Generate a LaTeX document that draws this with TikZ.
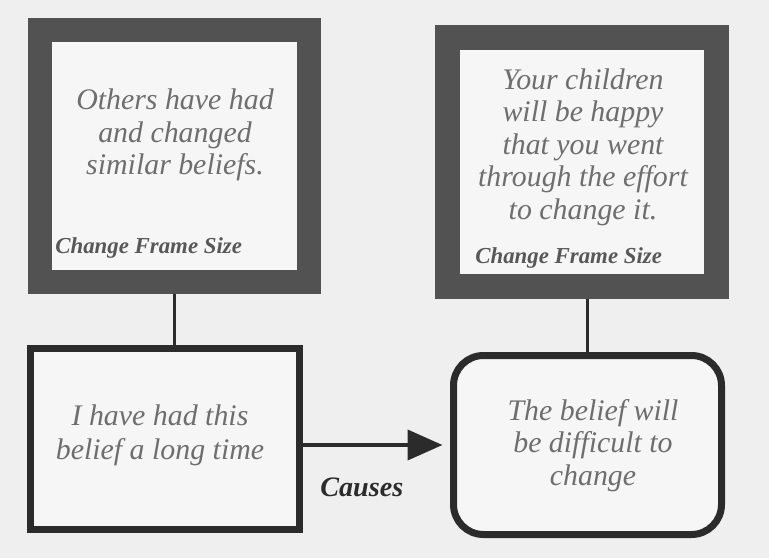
\documentclass[tikz,border=0pt]{standalone}
\usepackage{fontspec}
\setmainfont{Liberation Serif}
\usetikzlibrary{arrows.meta,positioning}
\definecolor{bggray}{HTML}{EFEFEF}
\definecolor{innerfill}{HTML}{F6F6F6}
\definecolor{framegray}{HTML}{525252}
\definecolor{boxgray}{HTML}{2B2B2B}
\definecolor{textgray}{HTML}{6E6E6E}
\tikzset{
  frame/.style = {draw = framegray, line width = .48cm, fill = innerfill, minimum width = 5.37cm, minimum height = 5.02cm, inner sep = 0pt},
  box/.style = {draw = boxgray, line width = .14cm, fill = innerfill, minimum width = 5.38cm, minimum height = 3.62cm, inner sep = 0pt},
  txt/.style = {draw = none, fill = none, align = center, text = textgray, font = \fontsize{17}{18.5}\selectfont\itshape},
  tag/.style = {draw = none, fill = none, anchor = west, inner sep = 0pt, text = textgray!80!black, font = \fontsize{13}{15}\selectfont\bfseries\itshape},
}
\begin{document}
\begin{tikzpicture}

\useasboundingbox (0,0) rectangle (15.38,11.16);
\fill[bggray] (0,0) rectangle (15.38,11.16);

\node[frame] (others) at (3.485,8.04) {};
\node[frame, minimum height = 4.98cm, line width = .5cm] (children) at (11.64,7.92) {};
\node[box] (long) at (3.30,2.38) {};
\node[box, rounded corners = .6cm, minimum width = 5.36cm, minimum height = 3.58cm] (hard) at (11.75,2.26) {};

\node[txt] (otherstext) at (3.5,8.46) {Others have had\\and changed\\similar beliefs.};
\node[tag] (otherstag) at (1.1,6.2) {Change Frame Size};
\node[txt] (childrentext) at (11.66,8.22) {Your children\\will be happy\\that you went\\through the effort\\to change it.};
\node[tag] (childrentag) at (9.5,6.0) {Change Frame Size};
\node[txt, font = \fontsize{17}{19.5}\selectfont\itshape] (longtext) at (3.2,2.46) {I have had this\\belief a long time};
\node[txt] (hardtext) at (11.86,2.25) {The belief will\\be difficult to\\change};

\draw[line width = .05cm, draw = boxgray] (others.south) -- (others.south |- long.north)
      (hard.north) -- (hard.north |- children.south);
\draw[-{Triangle[length=.7cm,width=.6cm]}, line width = .08cm, draw = boxgray, shorten >= .15cm]
      (long.east |- hard.west) -- (hard.west)
      node[pos = .4, yshift = -.84cm, text = boxgray, font = \fontsize{16}{18}\selectfont\bfseries\itshape] (causes) {Causes};
\end{tikzpicture}
\end{document}
